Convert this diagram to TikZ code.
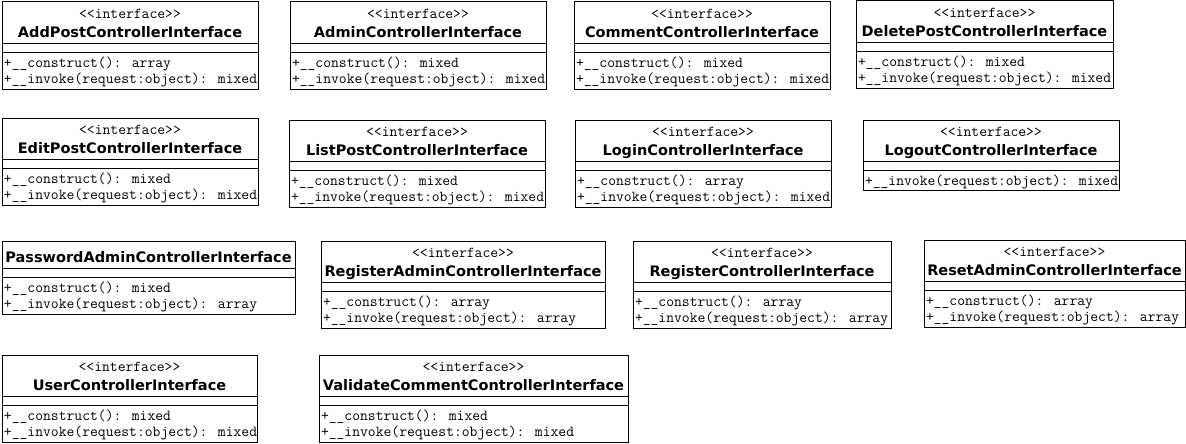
\documentclass[tikz,border=0pt]{standalone}
\usepackage{fontspec}
\setsansfont{DejaVu Sans}
\usetikzlibrary{shapes.multipart}
\lineskip=0pt
\newcommand\stereo{\rule[-4.5pt]{0pt}{19pt}\makebox[0pt]{<{}<interface>{}>}}
\newcommand\iname[2][18.5pt]{\rule[-3.6pt]{0pt}{#1}\makebox[0pt]{\sffamily\bfseries\fontsize{14.5}{18}\selectfont #2}}
\newcommand\op[1]{\rule[-2pt]{0pt}{15pt}\rlap{#1}}

\begin{document}
\begin{tikzpicture}[
      x=1pt, y=-1pt,
      iface/.style={rectangle split, rectangle split parts=3, draw, line width=1pt,
                    anchor=north west, outer sep=0pt, inner xsep=2pt, inner ysep=1.5pt,
                    align=center, rectangle split part align={center,left,left},
                    rectangle split empty part height=5pt, rectangle split empty part depth=0pt,
                    font=\ttfamily\fontsize{15.2}{16}\selectfont}
    ]
    \useasboundingbox (0,0) rectangle (1186,444);
    % first row
    \node[iface, minimum width=256pt] (addpost) at (2,2) {\stereo\\\iname{AddPostControllerInterface}
      \nodepart{three}\op{+\_\_construct(): array}\\\op{+\_\_invoke(request:object): mixed}};
    \node[iface, minimum width=256pt] (admin) at (290,2) {\stereo\\\iname{AdminControllerInterface}
      \nodepart{three}\op{+\_\_construct(): mixed}\\\op{+\_\_invoke(request:object): mixed}};
    \node[iface, minimum width=256pt] (comment) at (574,2) {\stereo\\\iname{CommentControllerInterface}
      \nodepart{three}\op{+\_\_construct(): mixed}\\\op{+\_\_invoke(request:object): mixed}};
    \node[iface, minimum width=257pt] (deletepost) at (856,1) {\stereo\\\iname{DeletePostControllerInterface}
      \nodepart{three}\op{+\_\_construct(): mixed}\\\op{+\_\_invoke(request:object): mixed}};

    % second row
    \node[iface, minimum width=256pt] (editpost) at (2,118) {\stereo\\\iname{EditPostControllerInterface}
      \nodepart{three}\op{+\_\_construct(): mixed}\\\op{+\_\_invoke(request:object): mixed}};
    \node[iface, minimum width=256pt] (listpost) at (289,120) {\stereo\\\iname{ListPostControllerInterface}
      \nodepart{three}\op{+\_\_construct(): mixed}\\\op{+\_\_invoke(request:object): mixed}};
    \node[iface, minimum width=256pt] (login) at (575,120) {\stereo\\\iname{LoginControllerInterface}
      \nodepart{three}\op{+\_\_construct(): array}\\\op{+\_\_invoke(request:object): mixed}};
    \node[iface, minimum width=256pt] (logout) at (863,120) {\stereo\\\iname{LogoutControllerInterface}
      \nodepart{three}\op{+\_\_invoke(request:object): mixed}};

    % third row
    \node[iface, minimum width=293pt] (pwadmin) at (2,241) {\iname[23.5pt]{PasswordAdminControllerInterface}
      \nodepart{three}\op{+\_\_construct(): mixed}\\\op{+\_\_invoke(request:object): array}};
    \node[iface, minimum width=284pt] (regadmin) at (321,241) {\stereo\\\iname{RegisterAdminControllerInterface}
      \nodepart{three}\op{+\_\_construct(): array}\\\op{+\_\_invoke(request:object): array}};
    \node[iface, minimum width=258pt] (register) at (633,241) {\stereo\\\iname{RegisterControllerInterface}
      \nodepart{three}\op{+\_\_construct(): array}\\\op{+\_\_invoke(request:object): array}};
    \node[iface, minimum width=261pt] (resetadmin) at (924,240) {\stereo\\\iname{ResetAdminControllerInterface}
      \nodepart{three}\op{+\_\_construct(): array}\\\op{+\_\_invoke(request:object): array}};

    % last row
    \node[iface, minimum width=255pt] (user) at (2,355) {\stereo\\\iname{UserControllerInterface}
      \nodepart{three}\op{+\_\_construct(): mixed}\\\op{+\_\_invoke(request:object): mixed}};
    \node[iface, minimum width=309pt] (valcomment) at (319,355) {\stereo\\\iname{ValidateCommentControllerInterface}
      \nodepart{three}\op{+\_\_construct(): mixed}\\\op{+\_\_invoke(request:object): mixed}};
  \end{tikzpicture}
\end{document}
